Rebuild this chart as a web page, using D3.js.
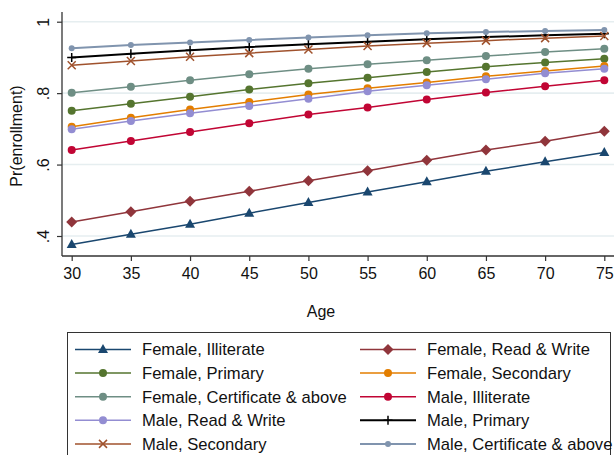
<!DOCTYPE html>
<html>
<head>
<meta charset="utf-8">
<script src="https://cdn.jsdelivr.net/npm/d3@7"></script>
<style>
  body { margin: 0; background: #fff; }
  svg { font-family: "Liberation Sans", Arial, sans-serif; }
</style>
</head>
<body>
<div id="wrapper"></div>
<script>
// DATA
const ages = [30, 35, 40, 45, 50, 55, 60, 65, 70, 75];
const yTicks = [0.4, 0.6, 0.8, 1];
const yTickLabels = [".4", ".6", ".8", "1"];

const seriesNames = [
  "Female, Illiterate", "Female, Read & Write",
  "Female, Primary", "Female, Secondary",
  "Female, Certificate & above", "Male, Illiterate",
  "Male, Read & Write", "Male, Primary",
  "Male, Secondary", "Male, Certificate & above"
];

const femaleIlliterate = [0.376, 0.405, 0.433, 0.464, 0.494, 0.523, 0.552, 0.581, 0.608, 0.634];
const femaleReadWrite  = [0.439, 0.468, 0.497, 0.525, 0.555, 0.583, 0.612, 0.641, 0.665, 0.693];
const femalePrimary    = [0.751, 0.770, 0.790, 0.810, 0.828, 0.843, 0.859, 0.874, 0.886, 0.896];
const femaleSecondary  = [0.706, 0.731, 0.754, 0.775, 0.796, 0.814, 0.830, 0.847, 0.862, 0.876];
const femaleCert       = [0.801, 0.818, 0.836, 0.853, 0.868, 0.881, 0.892, 0.904, 0.915, 0.924];
const maleIlliterate   = [0.641, 0.666, 0.691, 0.716, 0.740, 0.760, 0.782, 0.802, 0.819, 0.836];
const maleReadWrite    = [0.699, 0.722, 0.744, 0.764, 0.784, 0.805, 0.822, 0.839, 0.856, 0.868];
const malePrimary      = [0.900, 0.910, 0.920, 0.929, 0.937, 0.944, 0.951, 0.957, 0.962, 0.966];
const maleSecondary    = [0.878, 0.890, 0.902, 0.912, 0.922, 0.932, 0.940, 0.947, 0.954, 0.960];
const maleCert         = [0.926, 0.935, 0.942, 0.949, 0.956, 0.962, 0.968, 0.971, 0.974, 0.977];

const seriesValues = [
  femaleIlliterate, femaleReadWrite, femalePrimary, femaleSecondary, femaleCert,
  maleIlliterate, maleReadWrite, malePrimary, maleSecondary, maleCert
];

// STYLES (stata s2color-ish)
const colors = ["#1a476f", "#90353b", "#55752f", "#e37e00", "#6e8e84",
                "#c10534", "#938dd2", "#000000", "#a0522d", "#8094ae"];
const symbols = ["triangle", "diamond", "circle", "circle", "circle",
                 "circle", "circle", "plus", "cross", "smallcircle"];
const lineWidths = [1.5, 1.5, 1.5, 1.5, 1.5, 1.5, 1.5, 2, 1.5, 2];

const series = seriesNames.map((name, i) => ({
  name,
  color: colors[i],
  symbol: symbols[i],
  lw: lineWidths[i],
  values: ages.map((a, j) => ({ age: a, v: seriesValues[i][j] }))
}));

// DIMENSIONS
const width = 614, height = 455;
const plot = { left: 62, right: 614, top: 12, bottom: 256 };

const svg = d3.select("#wrapper").append("svg")
  .attr("width", width)
  .attr("height", height);

svg.append("rect").attr("width", width).attr("height", height).attr("fill", "#fff");

// SCALES
const xScale = d3.scaleLinear().domain([30, 75]).range([71.7, 604.3]);
const yScale = d3.scaleLinear().domain([0.4, 1]).range([236, 21.7]);

// GRID
svg.append("g").selectAll("line")
  .data(yTicks)
  .enter().append("line")
  .attr("x1", plot.left).attr("x2", plot.right)
  .attr("y1", d => yScale(d)).attr("y2", d => yScale(d))
  .attr("stroke", "#e6eef0")
  .attr("stroke-width", 1.6);

// AXES
const yAxis = svg.append("g")
  .attr("transform", `translate(${plot.left},0)`)
  .call(d3.axisLeft(yScale).tickValues(yTicks).tickSize(5)
    .tickFormat((d, i) => yTickLabels[i]));
yAxis.select(".domain").remove();
yAxis.selectAll(".tick line").attr("stroke", "#333").attr("stroke-width", 1.2);
yAxis.selectAll(".tick text")
  .attr("x", 0).attr("dy", "0.36em")
  .attr("text-anchor", "middle")
  .attr("transform", "translate(-19,0) rotate(-90)")
  .attr("font-size", 16)
  .attr("fill", "#111");

const xAxis = svg.append("g")
  .attr("transform", `translate(0,${plot.bottom})`)
  .call(d3.axisBottom(xScale).tickValues(ages).tickSize(5));
xAxis.select(".domain").remove();
xAxis.selectAll(".tick line").attr("stroke", "#333").attr("stroke-width", 1.2);
xAxis.selectAll(".tick text")
  .attr("y", 12)
  .attr("font-size", 16)
  .attr("fill", "#111");

svg.append("line")
  .attr("x1", plot.left).attr("x2", plot.left)
  .attr("y1", plot.top).attr("y2", plot.bottom)
  .attr("stroke", "#333").attr("stroke-width", 1.3);
svg.append("line")
  .attr("x1", plot.left).attr("x2", plot.right)
  .attr("y1", plot.bottom).attr("y2", plot.bottom)
  .attr("stroke", "#333").attr("stroke-width", 1.3);

svg.append("text")
  .attr("x", 321).attr("y", 317)
  .attr("text-anchor", "middle")
  .attr("font-size", 16)
  .attr("fill", "#111")
  .text("Age");

svg.append("text")
  .attr("transform", "translate(22,136) rotate(-90)")
  .attr("text-anchor", "middle")
  .attr("font-size", 16)
  .attr("fill", "#111")
  .text("Pr(enrollment)");

// MARKERS
function drawMarker(g, symbol, color, x, y) {
  if (symbol === "circle") {
    g.append("circle").attr("cx", x).attr("cy", y).attr("r", 4).attr("fill", color);
  } else if (symbol === "smallcircle") {
    g.append("circle").attr("cx", x).attr("cy", y).attr("r", 3).attr("fill", color);
  } else if (symbol === "triangle") {
    g.append("path")
      .attr("d", `M${x},${y - 5.5}L${x + 5},${y + 3.5}L${x - 5},${y + 3.5}Z`)
      .attr("fill", color);
  } else if (symbol === "diamond") {
    g.append("path")
      .attr("d", `M${x},${y - 5.5}L${x + 5.5},${y}L${x},${y + 5.5}L${x - 5.5},${y}Z`)
      .attr("fill", color);
  } else if (symbol === "plus") {
    g.append("path")
      .attr("d", `M${x - 4.5},${y}H${x + 4.5}M${x},${y - 4.5}V${y + 4.5}`)
      .attr("stroke", color).attr("stroke-width", 1.5).attr("fill", "none");
  } else if (symbol === "cross") {
    g.append("path")
      .attr("d", `M${x - 4},${y - 4}L${x + 4},${y + 4}M${x - 4},${y + 4}L${x + 4},${y - 4}`)
      .attr("stroke", color).attr("stroke-width", 1.5).attr("fill", "none");
  }
}

// DRAW DATA
const line = d3.line().x(d => xScale(d.age)).y(d => yScale(d.v));
series.forEach(s => {
  const g = svg.append("g");
  g.append("path")
    .attr("d", line(s.values))
    .attr("fill", "none")
    .attr("stroke", s.color)
    .attr("stroke-width", s.lw);
  s.values.forEach(d => drawMarker(g, s.symbol, s.color, xScale(d.age), yScale(d.v)));
});

// LEGEND
const legend = svg.append("g");
legend.append("rect")
  .attr("x", 67.5).attr("y", 332.5)
  .attr("width", 543).attr("height", 140)
  .attr("fill", "#fff")
  .attr("stroke", "#333")
  .attr("stroke-width", 1);

const colX = [75, 360];
const rowY = d3.range(5).map(i => 349.5 + i * 23.6);
series.forEach((s, i) => {
  const x0 = colX[i % 2];
  const y0 = rowY[Math.floor(i / 2)];
  const g = legend.append("g");
  g.append("line")
    .attr("x1", x0).attr("x2", x0 + 56)
    .attr("y1", y0).attr("y2", y0)
    .attr("stroke", s.color).attr("stroke-width", s.lw);
  drawMarker(g, s.symbol, s.color, x0 + 28, y0);
  g.append("text")
    .attr("x", x0 + 67).attr("y", y0).attr("dy", "0.36em")
    .attr("font-size", 16.6)
    .attr("fill", "#111")
    .text(s.name);
});
</script>
</body>
</html>
